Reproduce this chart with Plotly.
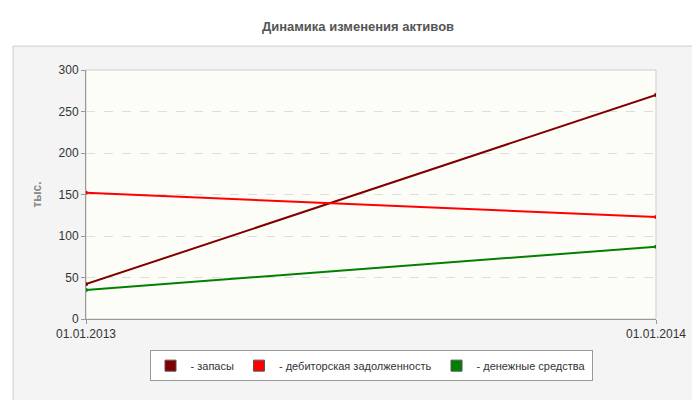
import plotly.graph_objects as go

dates = ["01.01.2013", "01.01.2014"]
zapasy = [42, 270]
debitor = [152, 123]
dengi = [35, 87]

names = ["- запасы", "- дебиторская задолженность", "- денежные средства"]
colors = ["#800000", "#ff0000", "#008000"]
series = [zapasy, debitor, dengi]

fig = go.Figure()
for name, color, vals in zip(names, colors, series):
    fig.add_trace(go.Scatter(
        x=[0, 1], y=vals, mode="lines+markers", showlegend=False,
        line=dict(color=color, width=2), marker=dict(color=color, size=4),
        hoverinfo="y",
    ))
for name, color in zip(names, colors):
    fig.add_trace(go.Scatter(
        x=[None], y=[None], mode="markers", name=name,
        marker=dict(color=color, symbol="square", size=11,
                    line=dict(color="#555", width=1)),
    ))

fig.update_layout(
    width=700, height=400,
    margin=dict(l=78, r=52, t=62, b=89, autoexpand=False),
    paper_bgcolor="white", plot_bgcolor="#fdfdf8",
    font=dict(family="Arial, Liberation Sans", size=12, color="#333"),
    title=dict(text="<b>Динамика изменения активов</b>", x=0.5, y=0.965,
               xanchor="center", font=dict(size=13, color="#555")),
    xaxis=dict(range=[0, 1], tickvals=[0, 1], ticktext=dates,
               showgrid=False, zeroline=False, showline=True, automargin=False,
               linecolor="#999", ticks="outside", ticklen=4, tickcolor="#999",
               fixedrange=True),
    yaxis=dict(range=[0, 300], dtick=50, gridcolor="#ddd", griddash="dash",
               zeroline=False, showline=True, linecolor="#999", automargin=False,
               ticks="outside", ticklen=4, tickcolor="#999",
               title=dict(text="<b>тыс.</b>", font=dict(size=12, color="#888"),
                          standoff=14)),
    legend=dict(orientation="h", x=0.5, xanchor="center", y=-0.125,
                yanchor="top", bgcolor="white", bordercolor="#999",
                borderwidth=1, font=dict(size=11, color="#333"),
                tracegroupgap=0),
    shapes=[
        dict(type="rect", xref="paper", yref="paper", layer="below",
             x0=-0.128, x1=1.079, y0=-0.337, y1=1.096,
             fillcolor="#f4f4f4", line=dict(color="#ccc", width=1)),
        dict(type="rect", xref="paper", yref="paper", layer="below",
             x0=0, x1=1, y0=0, y1=1,
             fillcolor="#fdfdf8", line=dict(color="#ccc", width=1)),
    ],
)

fig.write_html("out.html")
